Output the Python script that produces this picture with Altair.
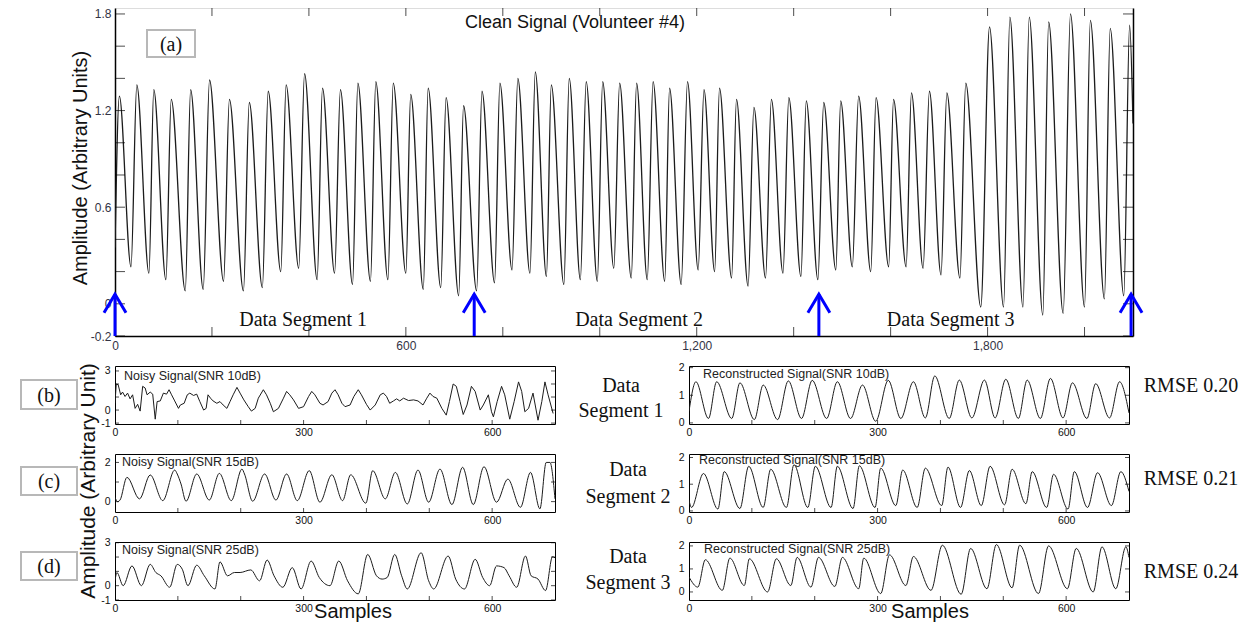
import altair as alt
import pandas as pd

SANS = "Liberation Sans"
SERIF = "Liberation Serif"
INK = "#1c1c1c"
BLUE = "#0000ff"

# ---------------- (a) clean signal: peaks, troughs, ends ----------------
clean_peak_x = [9, 45, 80, 116, 156, 195, 236, 277, 316, 353, 391, 428, 465, 501, 538, 574, 610, 646, 683, 719,
                757, 794, 831, 867, 900, 937, 972, 1006, 1041, 1076, 1110, 1144, 1181, 1215, 1247, 1282, 1318, 1354,
                1390, 1426, 1462, 1497, 1534, 1570, 1606, 1643, 1680, 1716, 1755, 1804, 1846, 1886, 1926, 1971,
                2012, 2053, 2093]
clean_peak_y = [1.29, 1.36, 1.33, 1.27, 1.33, 1.39, 1.27, 1.25, 1.32, 1.36, 1.43, 1.34, 1.33, 1.37, 1.38, 1.37,
                1.30, 1.34, 1.28, 1.23, 1.32, 1.37, 1.40, 1.44, 1.36, 1.40, 1.38, 1.38, 1.37, 1.37, 1.38, 1.34,
                1.38, 1.33, 1.34, 1.27, 1.22, 1.27, 1.28, 1.26, 1.25, 1.26, 1.29, 1.28, 1.27, 1.31, 1.32, 1.31,
                1.37, 1.72, 1.78, 1.78, 1.75, 1.80, 1.76, 1.71, 1.73]
clean_trough_x = [33, 70, 105, 145, 182, 224, 265, 304, 342, 379, 417, 453, 490, 527, 563, 600, 636, 672, 709, 746,
                  783, 819, 856, 890, 926, 960, 995, 1029, 1065, 1098, 1134, 1168, 1203, 1237, 1272, 1306, 1342,
                  1378, 1415, 1450, 1487, 1521, 1559, 1596, 1632, 1667, 1704, 1743, 1786, 1833, 1873, 1914, 1956,
                  2000, 2041, 2081]
clean_trough_y = [0.23, 0.19, 0.15, 0.08, 0.09, 0.14, 0.08, 0.10, 0.20, 0.22, 0.15, 0.19, 0.12, 0.14, 0.15, 0.19,
                  0.09, 0.10, 0.05, 0.08, 0.13, 0.21, 0.19, 0.17, 0.12, 0.15, 0.14, 0.22, 0.16, 0.15, 0.14, 0.12,
                  0.21, 0.20, 0.16, 0.11, 0.16, 0.19, 0.17, 0.15, 0.21, 0.23, 0.20, 0.23, 0.23, 0.22, 0.18, 0.16,
                  -0.02, -0.02, -0.02, -0.07, -0.06, -0.02, 0.03, 0.05]
clean_end_x = [0, 2100]
clean_end_y = [0.35, 1.12]

# ---------------- noisy signals (b), (c), (d) ----------------
noisy10_x = [0, 2, 5, 9, 12, 16, 20, 24, 28, 32, 36, 40, 44, 48, 51, 56, 60, 64, 67, 72,
             77, 82, 86, 90, 95, 101, 104, 110, 115, 119, 125, 130, 135, 141, 145, 148, 152, 156, 162, 167,
             172, 178, 183, 188, 194, 199, 205, 212, 217, 223, 228, 236, 241, 247, 252, 260, 268, 273, 278, 284,
             292, 300, 308, 313, 318, 326, 331, 339, 345, 350, 355, 361, 366, 374, 380, 387, 392, 400, 406, 414,
             422, 427, 432, 437, 443, 448, 453, 459, 467, 475, 482, 490, 496, 501, 506, 512, 520, 527, 532, 538,
             543, 549, 554, 560, 567, 573, 581, 586, 594, 599, 602, 608, 615, 620, 628, 635, 642, 647, 652, 658,
             665, 673, 679, 684, 689, 697]
noisy10_y = [0.52, 2.0, 1.95, 1.17, 1.38, 1.04, 1.30, 0.86, 1.17, 0.13, 0.44, -0.08, 1.82, 1.69, 1.17, 1.38,
             1.22, -0.70, 0.65, 0.70, 1.30, 1.22, 1.56, 1.17, 0.70, 0.13, 0.39, 0.52, 1.17, 1.30, 1.12, 1.22,
             0.65, 0.0, 0.13, 1.17, 0.91, 0.70, 0.52, 0.65, 0.39, 0.13, 0.65, 1.17, 1.74, 1.30, 0.78, 0.26,
             -0.08, 0.13, 0.91, 1.56, 1.17, 0.52, -0.13, 0.13, 0.91, 1.43, 1.17, 0.78, 0.13, 0.26, 1.04, 1.43,
             1.17, 0.52, 0.39, 0.65, 1.30, 1.56, 1.17, 0.52, 0.26, 0.39, 1.04, 1.56, 1.17, 0.44, 0.0, 0.39,
             1.17, 1.30, 1.04, 0.52, 0.70, 0.86, 0.70, 0.91, 0.73, 0.78, 0.70, 0.39, 0.91, 1.30, 1.04, 0.91,
             0.13, -0.39, 0.65, 2.0, 1.82, 0.65, -0.34, 0.39, 1.82, 1.43, 0.0, 0.39, 1.17, -0.13, -0.52, 0.65,
             1.82, 1.17, -0.70, 0.65, 2.16, 1.43, -0.13, 0.13, 1.30, -0.78, 0.65, 2.16, 1.17, -0.26]
noisy15_x = [0, 4, 8, 19, 39, 56, 76, 95, 99, 105, 113, 130, 150, 166, 185, 202, 206, 219, 238, 256,
             273, 290, 309, 326, 345, 362, 375, 399, 410, 430, 446, 465, 482, 499, 517, 536, 553, 570, 587, 607,
             625, 645, 661, 676, 686, 692, 700]
noisy15_y = [0.22, 0.0, 0.08, 1.24, 0.14, 1.36, 0.05, 1.61, 1.41, 0.90, 0.02, 1.41, 0.08, 1.44, 0.05, 1.66,
             1.41, 0.02, 1.41, 0.08, 1.41, 0.05, 1.58, -0.03, 1.37, 0.05, 1.37, -0.08, 1.58, 0.14, 1.49, -0.12,
             1.61, -0.03, 1.66, -0.15, 1.75, -0.15, 1.78, -0.03, 1.15, -0.29, 1.49, -0.37, 2.0, 2.0, 0.14]
noisy25_x = [0, 3, 13, 27, 42, 56, 65, 73, 87, 99, 107, 116, 130, 142, 159, 167, 179, 190, 199, 216,
             230, 242, 253, 267, 282, 296, 312, 325, 342, 356, 370, 387, 402, 416, 425, 433, 445, 456, 465, 487,
             499, 507, 530, 542, 556, 573, 585, 596, 607, 619, 627, 639, 653, 662, 673, 685, 696, 700]
noisy25_y = [0.34, 0.92, 0.0, 1.38, 0.0, 1.49, 0.92, 0.69, -0.11, 1.49, 1.15, 0.0, 1.43, 0.69, -0.23, 1.66,
             0.69, 0.92, 0.92, 1.10, 0.34, 1.79, 0.69, -0.11, 1.26, -0.23, 1.72, 0.57, 0.0, 1.72, 0.34, -0.57,
             2.18, 0.69, 0.46, 0.57, 2.18, 0.69, -0.23, 2.30, 0.34, -0.23, 2.07, 0.46, -0.23, 1.84, 0.57, 0.0,
             1.38, 1.26, 0.69, -0.11, 2.07, 0.69, 0.46, -0.34, 2.02, 1.95]

# ---------------- reconstructed signals: peaks, troughs, ends ----------------
rec10_peak_x = [11, 44, 81, 118, 158, 196, 236, 276, 317, 357, 391, 430, 470, 504, 538, 575, 610, 647, 685]
rec10_peak_y = [1.49, 1.49, 1.45, 1.37, 1.52, 1.54, 1.49, 1.37, 1.54, 1.49, 1.70, 1.55, 1.55, 1.58, 1.55,
                1.61, 1.45, 1.42, 1.49]
rec10_trough_x = [31, 68, 104, 141, 179, 219, 257, 297, 337, 376, 414, 450, 487, 524, 559, 595, 633, 669]
rec10_trough_y = [0.16, 0.16, 0.12, 0.12, 0.16, 0.16, 0.16, 0.06, 0.16, 0.18, 0.16, 0.18, 0.18, 0.16, 0.16,
                  0.18, 0.16, 0.18]
rec10_end_x = [0, 700]
rec10_end_y = [0.42, 0.36]

rec15_peak_x = [23, 56, 95, 130, 167, 201, 236, 271, 305, 340, 376, 412, 446, 479, 514, 546, 580, 613, 650, 687]
rec15_peak_y = [1.40, 1.47, 1.67, 1.56, 1.73, 1.67, 1.67, 1.69, 1.60, 1.53, 1.60, 1.64, 1.51, 1.67, 1.56,
                1.47, 1.37, 1.47, 1.43, 1.47]
rec15_trough_x = [4, 46, 81, 118, 155, 189, 226, 261, 296, 329, 363, 402, 432, 465, 502, 536, 569, 603, 634, 672]
rec15_trough_y = [0.13, 0.07, 0.09, 0.13, 0.13, 0.13, 0.13, 0.09, 0.13, 0.20, 0.13, 0.20, 0.13, 0.20, 0.23,
                  0.27, 0.13, 0.07, 0.13, 0.20]
rec15_end_x = [0, 700]
rec15_end_y = [0.40, 0.73]

rec25_peak_x = [26, 65, 96, 139, 172, 206, 244, 278, 319, 357, 403, 448, 489, 526, 572, 616, 657, 695]
rec25_peak_y = [1.40, 1.47, 1.44, 1.44, 1.50, 1.50, 1.50, 1.47, 1.61, 1.54, 2.03, 1.89, 2.06, 2.03, 2.00,
                1.89, 1.96, 1.96]
rec25_trough_x = [14, 53, 88, 125, 162, 194, 232, 270, 305, 345, 385, 433, 474, 514, 556, 602, 643, 679]
rec25_trough_y = [0.21, 0.07, 0.28, 0.00, 0.28, 0.21, 0.24, 0.14, -0.07, 0.28, 0.07, -0.10, 0.14, 0.18,
                  -0.07, 0.14, 0.00, 0.14]
rec25_end_x = [0, 700]
rec25_end_y = [0.65, 1.50]

# ---------------- axes, segments, labels ----------------
top_xlabels = [0, 600, 1200, 1800]
top_xticks = [200, 400, 600, 800, 1000, 1200, 1400, 1600, 1800, 2000]
top_ylabels = [-0.2, 0, 0.6, 1.2, 1.8]
top_yticks = [-0.2, 0.0, 0.2, 0.4, 0.6, 0.8, 1.0, 1.2, 1.4, 1.6, 1.8]
small_xlabels = [0, 300, 600]
small_xticks = [100, 200, 300, 400, 500, 600]
segment_bounds = [0, 741, 1452, 2096]
segment_names = ["Data Segment 1", "Data Segment 2", "Data Segment 3"]
segment_name_x = [388, 1081, 1724]
rmse_text = ["RMSE 0.20", "RMSE 0.21", "RMSE 0.24"]

ONE = pd.DataFrame({"k": [0]})
PLAIN = "'' + datum.value"


def peaks_df(px, py, tx, ty, ex, ey):
    df = pd.DataFrame({"x": list(px) + list(tx) + list(ex), "y": list(py) + list(ty) + list(ey)})
    return df.sort_values("x").reset_index(drop=True)


def text(s, x, y, size, font=SANS, align="left", angle=0, color="#111111"):
    kw = dict(font=font, fontSize=size, align=align, baseline="middle", color=color, text=s)
    if angle:
        kw["angle"] = angle
    return alt.Chart(ONE).mark_text(**kw).encode(x=alt.value(x), y=alt.value(y))


def box(label, x1, x2, y1, y2):
    r = alt.Chart(ONE).mark_rect(fill="white", stroke="#b8b8b8", strokeWidth=2).encode(
        x=alt.value(x1), x2=alt.value(x2), y=alt.value(y1), y2=alt.value(y2))
    t = text(label, (x1 + x2) / 2, (y1 + y2) / 2 + 1, 20, font=SERIF, align="center")
    return [r, t]


def anchor(x, y):
    # invisible point that fixes the layout's top-left corner
    return alt.Chart(ONE).mark_rule(opacity=0).encode(
        x=alt.value(x), x2=alt.value(x), y=alt.value(y), y2=alt.value(y))


# ---------------- top panel ----------------
TW, TH = 1018, 328
txs = alt.Scale(domain=[0, 2100], nice=False, zero=False)
tys = alt.Scale(domain=[-0.2, 1.837], nice=False, zero=False)

clean = peaks_df(clean_peak_x, clean_peak_y, clean_trough_x, clean_trough_y, clean_end_x, clean_end_y)
axis_common = dict(ticks=False, tickSize=0, grid=False, domainColor="black", domainWidth=1.5,
                   labelFont=SANS, labelFontSize=12, labelColor="#333344", labelPadding=4,
                   labelFlush=False, labelOverlap=False, title=None)
top_line = alt.Chart(clean).mark_line(color=INK, strokeWidth=1.3, interpolate="monotone", clip=True).encode(
    x=alt.X("x:Q", scale=txs, axis=alt.Axis(values=top_xlabels, format=",d", **axis_common)),
    y=alt.Y("y:Q", scale=tys, axis=alt.Axis(values=top_ylabels, labelExpr=PLAIN, **axis_common)),
)
t_xb = alt.Chart(pd.DataFrame({"v": top_xticks})).mark_tick(orient="vertical", color="black", thickness=1, size=9).encode(
    x=alt.X("v:Q", scale=txs, axis=None), y=alt.value(TH - 4.5))
t_xt = alt.Chart(pd.DataFrame({"v": top_xticks})).mark_tick(orient="vertical", color="black", thickness=1, size=8).encode(
    x=alt.X("v:Q", scale=txs, axis=None), y=alt.value(4))
t_yl = alt.Chart(pd.DataFrame({"v": top_yticks})).mark_tick(orient="horizontal", color="black", thickness=1, size=10).encode(
    y=alt.Y("v:Q", scale=tys, axis=None), x=alt.value(5))
t_yr = alt.Chart(pd.DataFrame({"v": top_yticks})).mark_tick(orient="horizontal", color="black", thickness=1, size=10).encode(
    y=alt.Y("v:Q", scale=tys, axis=alt.Axis(orient="right", labels=False, ticks=False, tickSize=0, grid=False,
                                              domainColor="black", domainWidth=1.5, title=None)),
    x=alt.value(TW - 5))

arrows = pd.DataFrame({"x": segment_bounds, "base": [-0.2] * 4, "tip": [0.06] * 4})
arrow_rule = alt.Chart(arrows).mark_rule(color=BLUE, strokeWidth=3, clip=False).encode(
    x=alt.X("x:Q", scale=txs, axis=None), y=alt.Y("base:Q", scale=tys, axis=None), y2="tip:Q")
arrow_head = alt.Chart(arrows).mark_point(shape="M-1,1.7L0,0L1,1.7", size=484, filled=False, strokeWidth=3,
                                          color=BLUE, opacity=1, clip=False).encode(
    x=alt.X("x:Q", scale=txs, axis=None), y=alt.Y("tip:Q", scale=tys, axis=None))

segs = pd.DataFrame({"x": segment_name_x, "y": [-0.1] * 3, "t": segment_names})
seg_text = alt.Chart(segs).mark_text(font=SERIF, fontSize=20, align="center", baseline="middle", color="#111").encode(
    x=alt.X("x:Q", scale=txs, axis=None), y=alt.Y("y:Q", scale=tys, axis=None), text="t:N")

top = alt.layer(
    top_line, t_xb, t_xt, t_yl, t_yr, arrow_rule, arrow_head, seg_text,
    text("Clean Signal (Volunteer #4)", 460, 15, 18, align="center"),
    *box("(a)", 32, 80, 22, 49),
    text("Amplitude (Arbitrary Units)", -34, 160, 20, align="center", angle=270),
    anchor(-114, -7),
).resolve_axis(x="independent", y="independent").properties(width=TW, height=TH)

# ---------------- small panels ----------------
SW, SH = 440, 58
sxs = alt.Scale(domain=[0, 700], nice=False, zero=False)


def small(df, ydom, ylabels, yticks, title, tdx, tdy, interp, extras):
    ys = alt.Scale(domain=ydom, nice=False, zero=False)
    ax = dict(ticks=False, tickSize=0, grid=False, domain=False, labelFont=SANS, labelFontSize=10.5,
              labelColor="#111111", labelFlush=False, labelOverlap=False, title=None)
    line = alt.Chart(df).mark_line(color=INK, strokeWidth=1, interpolate=interp, clip=True).encode(
        x=alt.X("x:Q", scale=sxs, axis=alt.Axis(values=small_xlabels, format="d", labelPadding=3, **ax)),
        y=alt.Y("y:Q", scale=ys, axis=alt.Axis(values=ylabels, labelExpr=PLAIN, labelPadding=5, **ax)),
    )
    xt = alt.Chart(pd.DataFrame({"v": small_xticks})).mark_tick(orient="vertical", color="black", thickness=1, size=4).encode(
        x=alt.X("v:Q", scale=sxs, axis=None), y=alt.value(SH - 2))
    yl = alt.Chart(pd.DataFrame({"v": yticks})).mark_tick(orient="horizontal", color="black", thickness=1, size=4).encode(
        y=alt.Y("v:Q", scale=ys, axis=None), x=alt.value(2))
    yr = alt.Chart(pd.DataFrame({"v": yticks})).mark_tick(orient="horizontal", color="black", thickness=1, size=4).encode(
        y=alt.Y("v:Q", scale=ys, axis=None), x=alt.value(SW - 2))
    ttl = text(title, tdx, tdy, 12.5, color="#222222")
    return alt.layer(line, xt, yl, yr, ttl, *extras).resolve_axis(
        x="independent", y="independent").properties(
        width=SW, height=SH, view=alt.ViewBackground(stroke="black", strokeWidth=1))


nb = small(pd.DataFrame({"x": noisy10_x, "y": noisy10_y}), [-1.07, 3.38], [-1, 0, 3], [-1, 0, 1, 2, 3],
           "Noisy Signal(SNR 10dB)", 9, 10, "linear",
           [*box("(b)", -94, -38, 14, 43),
            text("Data", 506, 20, 20, font=SERIF, align="center"),
            text(segment_names[0].replace("Data ", ""), 506, 45, 20, font=SERIF, align="center")])
nc = small(pd.DataFrame({"x": noisy15_x, "y": noisy15_y}), [-0.53, 2.43], [0, 2], [0, 1, 2],
           "Noisy Signal(SNR 15dB)", 7, 8, "monotone",
           [*box("(c)", -94, -38, 13, 41),
            text("Data", 513, 16, 20, font=SERIF, align="center"),
            text(segment_names[1].replace("Data ", ""), 513, 43, 20, font=SERIF, align="center"),
            text("Amplitude (Arbitrary Unit)", -26, 27, 21, align="center", angle=270)])
nd = small(pd.DataFrame({"x": noisy25_x, "y": noisy25_y}), [-1.0, 3.05], [-1, 0, 3], [-1, 0, 1, 2, 3],
           "Noisy Signal(SNR 25dB)", 7, 8, "monotone",
           [*box("(d)", -94, -38, 10, 38),
            text("Data", 513, 15, 20, font=SERIF, align="center"),
            text(segment_names[2].replace("Data ", ""), 513, 41, 20, font=SERIF, align="center"),
            text("Samples", 238, 70, 20, align="center")])

rb = small(peaks_df(rec10_peak_x, rec10_peak_y, rec10_trough_x, rec10_trough_y, rec10_end_x, rec10_end_y),
           [-0.04, 2.06], [0, 1, 2], [0, 1, 2], "Reconstructed Signal(SNR 10dB)", 14, 8, "monotone",
           [text(rmse_text[0], 502, 20, 20, font=SERIF, align="center")])
rc = small(peaks_df(rec15_peak_x, rec15_peak_y, rec15_trough_x, rec15_trough_y, rec15_end_x, rec15_end_y),
           [-0.04, 2.13], [0, 1, 2], [0, 1, 2], "Reconstructed Signal(SNR 15dB)", 10, 6, "monotone",
           [text(rmse_text[1], 502, 25, 20, font=SERIF, align="center")])
rd = small(peaks_df(rec25_peak_x, rec25_peak_y, rec25_trough_x, rec25_trough_y, rec25_end_x, rec25_end_y),
           [-0.35, 2.17], [0, 1, 2], [0, 1, 2], "Reconstructed Signal(SNR 25dB)", 15, 7, "monotone",
           [text(rmse_text[2], 502, 30, 20, font=SERIF, align="center"),
            text("Samples", 241, 70, 20, align="center")])

left_col = alt.vconcat(nb, nc, nd, spacing=30, bounds="flush")
right_col = alt.vconcat(rb, rc, rd, spacing=30, bounds="flush")
# nested layout groups count as zero-width under "flush", so the spacing is the full column offset
bottom = alt.hconcat(left_col, right_col, spacing=574, bounds="flush")

chart = alt.vconcat(top, bottom, spacing=30, bounds="flush").properties(
    padding={"left": 0, "top": 0, "right": 0, "bottom": 0}
).configure_view(stroke=None).configure(background="white")

chart.save("out.html", embed_options={"renderer": "svg", "actions": False})
